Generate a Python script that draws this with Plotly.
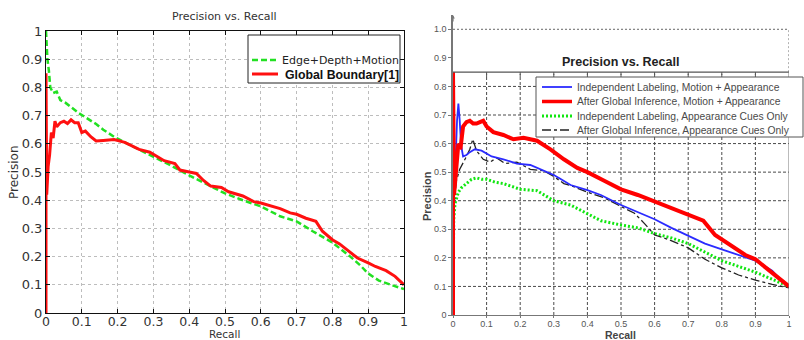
import plotly.graph_objects as go

# ---------------- data ----------------
tick_vals = [0, 0.1, 0.2, 0.3, 0.4, 0.5, 0.6, 0.7, 0.8, 0.9, 1.0]
left_tick_text = ["0", "0.1", "0.2", "0.3", "0.4", "0.5", "0.6", "0.7", "0.8", "0.9", "1"]
right_x_tick_text = ["0", "0.1", "0.2", "0.3", "0.4", "0.5", "0.6", "0.7", "0.8", "0.9", "1"]
right_y_tick_text = ["0", "0.1", "0.2", "0.3", "0.4", "0.5", "0.6", "0.7", "0.8", "0.9", "1.0"]
right_grid_y = [0.1, 0.2, 0.3, 0.4, 0.5, 0.6, 0.7, 0.8]
right_grid_x = [0.1, 0.2, 0.3, 0.4, 0.5, 0.6, 0.7, 0.8, 0.9]

title_text = "Precision vs. Recall"
x_title = "Recall"
y_title = "Precision"

left_names = ["Edge+Depth+Motion", "Global Boundary[1]"]
right_names = [
    "Independent Labeling, Motion + Appearance",
    "After Global Inference, Motion + Appearance",
    "Independent Labeling, Appearance Cues Only",
    "After Global Inference, Appearance Cues Only",
]

# Left: Edge+Depth+Motion
edm_recall = [0, 0.004, 0.008, 0.012, 0.02, 0.03, 0.04, 0.055, 0.07, 0.09, 0.115, 0.14,
              0.16, 0.19, 0.22, 0.26, 0.3, 0.346, 0.4, 0.45, 0.5, 0.55, 0.6, 0.654, 0.7,
              0.745, 0.784, 0.8, 0.85, 0.877, 0.9, 0.93, 0.97, 1.0]
edm_precision = [1.0, 0.9, 0.86, 0.8, 0.78, 0.785, 0.755, 0.745, 0.73, 0.71, 0.69, 0.67,
                 0.65, 0.625, 0.605, 0.58, 0.555, 0.525, 0.488, 0.455, 0.424, 0.4, 0.378,
                 0.343, 0.325, 0.29, 0.262, 0.25, 0.2, 0.17, 0.14, 0.115, 0.097, 0.085]

# Left: Global Boundary[1]
gb_recall = [0, 0, 0.002, 0.006, 0.01, 0.015, 0.02, 0.025, 0.03, 0.04, 0.05, 0.06, 0.07,
             0.08, 0.09, 0.1, 0.11, 0.125, 0.14, 0.16, 0.19, 0.22, 0.26, 0.29, 0.33, 0.36,
             0.374, 0.4, 0.42, 0.44, 0.46, 0.49, 0.51, 0.55, 0.58, 0.6, 0.626, 0.654,
             0.682, 0.7, 0.726, 0.754, 0.772, 0.79, 0.8, 0.82, 0.85, 0.87, 0.9, 0.92,
             0.95, 0.975, 1.0]
gb_precision = [0, 0.85, 0.42, 0.52, 0.56, 0.64, 0.62, 0.68, 0.66, 0.675, 0.68, 0.672,
                0.685, 0.675, 0.675, 0.64, 0.645, 0.625, 0.61, 0.612, 0.615, 0.605, 0.58,
                0.57, 0.54, 0.53, 0.507, 0.5, 0.495, 0.47, 0.45, 0.445, 0.43, 0.415,
                0.395, 0.39, 0.38, 0.37, 0.355, 0.35, 0.336, 0.325, 0.29, 0.27, 0.26,
                0.245, 0.215, 0.195, 0.178, 0.165, 0.15, 0.13, 0.1]

# Right: Independent Labeling, Motion + Appearance (blue)
ilma_recall = [0.003, 0.008, 0.012, 0.016, 0.02, 0.024, 0.03, 0.04, 0.05, 0.065, 0.085,
               0.1, 0.115, 0.15, 0.19, 0.23, 0.27, 0.3, 0.318, 0.35, 0.4, 0.44, 0.5,
               0.55, 0.6, 0.65, 0.7, 0.75, 0.8, 0.85, 0.9, 0.95, 0.97, 1.0]
ilma_precision = [0.45, 0.55, 0.68, 0.74, 0.68, 0.595, 0.555, 0.56, 0.57, 0.58, 0.575,
                  0.565, 0.555, 0.545, 0.53, 0.525, 0.505, 0.49, 0.478, 0.455, 0.437,
                  0.42, 0.385, 0.36, 0.335, 0.305, 0.278, 0.25, 0.23, 0.21, 0.19, 0.155,
                  0.13, 0.1]

# Right: After Global Inference, Motion + Appearance (red)
agma_recall = [0, 0, 0.003, 0.008, 0.012, 0.016, 0.022, 0.026, 0.03, 0.04, 0.05, 0.06,
               0.07, 0.08, 0.09, 0.1, 0.12, 0.15, 0.18, 0.21, 0.25, 0.29, 0.33, 0.37,
               0.4, 0.45, 0.5, 0.55, 0.6, 0.655, 0.7, 0.745, 0.78, 0.83, 0.87, 0.9,
               0.95, 1.0]
agma_precision = [0, 0.85, 0.42, 0.5, 0.55, 0.6, 0.58, 0.64, 0.66, 0.675, 0.68, 0.67,
                  0.67, 0.675, 0.68, 0.66, 0.64, 0.63, 0.615, 0.62, 0.61, 0.58, 0.545,
                  0.515, 0.5, 0.47, 0.44, 0.42, 0.396, 0.37, 0.35, 0.33, 0.28, 0.24,
                  0.21, 0.195, 0.146, 0.1]

# Right: Independent Labeling, Appearance Cues Only (green)
ilac_recall = [0, 0.002, 0.006, 0.01, 0.016, 0.025, 0.04, 0.055, 0.07, 0.085, 0.1,
               0.125, 0.15, 0.2, 0.25, 0.3, 0.35, 0.4, 0.44, 0.5, 0.55, 0.6, 0.65,
               0.7, 0.75, 0.8, 0.85, 0.9, 0.95, 1.0]
ilac_precision = [0, 0.33, 0.39, 0.41, 0.43, 0.445, 0.46, 0.475, 0.48, 0.475, 0.475,
                  0.465, 0.46, 0.44, 0.435, 0.40, 0.385, 0.355, 0.33, 0.315, 0.305,
                  0.285, 0.27, 0.25, 0.22, 0.19, 0.17, 0.15, 0.125, 0.1]

# Right: After Global Inference, Appearance Cues Only (black)
agac_recall = [0.003, 0.01, 0.02, 0.03, 0.04, 0.05, 0.059, 0.07, 0.08, 0.09, 0.11,
               0.13, 0.155, 0.19, 0.23, 0.27, 0.3, 0.33, 0.357, 0.4, 0.45, 0.5, 0.54,
               0.57, 0.6, 0.64, 0.7, 0.75, 0.8, 0.85, 0.9, 0.95, 1.0]
agac_precision = [0.38, 0.47, 0.51, 0.53, 0.555, 0.58, 0.615, 0.575, 0.56, 0.545,
                  0.535, 0.55, 0.53, 0.535, 0.51, 0.505, 0.485, 0.46, 0.45, 0.43,
                  0.41, 0.38, 0.356, 0.32, 0.28, 0.265, 0.235, 0.195, 0.165, 0.14,
                  0.122, 0.107, 0.095]

# ---------------- styles ----------------
W, H = 804, 340
def PX(x):
    return x / W
def PY(y):
    return 1 - y / H

L_FONT = "DejaVu Sans"
R_FONT = "Liberation Sans, Arial"

left_styles = [
    dict(color="#22e022", width=2.5, dash="6px,3px"),
    dict(color="#ff1010", width=3, dash="solid"),
]
right_styles = [
    dict(color="#2b2bff", width=1.8, dash="solid"),
    dict(color="#ff0000", width=4, dash="solid"),
    dict(color="#11e611", width=3, dash="2px,2px"),
    dict(color="#222222", width=1.3, dash="dashdot"),
]

fig = go.Figure()

fig.add_trace(go.Scatter(x=edm_recall, y=edm_precision, mode="lines", name=left_names[0],
                         line=left_styles[0], xaxis="x", yaxis="y", showlegend=False))
fig.add_trace(go.Scatter(x=gb_recall, y=gb_precision, mode="lines", name=left_names[1],
                         line=left_styles[1], xaxis="x", yaxis="y", showlegend=False))

right_series = [
    (ilma_recall, ilma_precision),
    (agma_recall, agma_precision),
    (ilac_recall, ilac_precision),
    (agac_recall, agac_precision),
]
for i in [2, 3, 0, 1]:
    rx, ry = right_series[i]
    fig.add_trace(go.Scatter(x=rx, y=ry, mode="lines", name=right_names[i],
                             line=right_styles[i], xaxis="x2", yaxis="y2",
                             showlegend=False))

shapes = []
annotations = []

# ---- right plot frame & grid ----
R_TOP = 0.85
gcol = "#4a4a4a"
for gx in right_grid_x:
    shapes.append(dict(type="line", xref="x2", yref="y2", x0=gx, x1=gx, y0=0, y1=R_TOP,
                       line=dict(color=gcol, width=1, dash="3px,2px"), layer="below"))
for gy in right_grid_y:
    shapes.append(dict(type="line", xref="x2", yref="y2", x0=0, x1=1, y0=gy, y1=gy,
                       line=dict(color=gcol, width=1, dash="3px,2px"), layer="below"))
shapes.append(dict(type="line", xref="x2", yref="y2", x0=0, x1=1, y0=tick_vals[-1], y1=tick_vals[-1],
                   line=dict(color="#666", width=1, dash="2px,2px"), layer="below"))
shapes.append(dict(type="line", xref="x2", yref="y2", x0=1, x1=1, y0=R_TOP, y1=tick_vals[-1],
                   line=dict(color="#666", width=1, dash="2px,2px"), layer="below"))
shapes.append(dict(type="line", xref="x2", yref="y2", x0=0, x1=1, y0=R_TOP, y1=R_TOP,
                   line=dict(color="#555", width=1.2), layer="above"))
shapes.append(dict(type="line", xref="x2", yref="y2", x0=1, x1=1, y0=0, y1=R_TOP,
                   line=dict(color="#777", width=1), layer="above"))
for gx in right_grid_x:
    shapes.append(dict(type="line", xref="x2", yref="paper", x0=gx, x1=gx,
                       y0=PY(74), y1=PY(77), line=dict(color="#555", width=1)))

# ---- left legend ----
shapes.append(dict(type="rect", xref="paper", yref="paper", x0=PX(248), x1=PX(400),
                   y0=PY(83), y1=PY(35), line=dict(color="#222", width=1),
                   fillcolor="white", layer="above"))
left_leg_y = [60, 74]
for i, yy in enumerate(left_leg_y):
    st = left_styles[i]
    shapes.append(dict(type="line", xref="paper", yref="paper", x0=PX(252), x1=PX(278),
                       y0=PY(yy), y1=PY(yy),
                       line=dict(color=st["color"], width=st["width"], dash=st["dash"]),
                       layer="above"))
annotations.append(dict(text=left_names[0], xref="paper", yref="paper", x=PX(280), y=PY(60),
                        xanchor="left", yanchor="middle", showarrow=False,
                        font=dict(family=L_FONT, size=11, color="#222")))
annotations.append(dict(text="<b>" + left_names[1] + "</b>", xref="paper", yref="paper",
                        x=PX(283), y=PY(74.5), xanchor="left", yanchor="middle", showarrow=False,
                        font=dict(family=R_FONT, size=12.3, color="#111")))

# ---- right legend ----
shapes.append(dict(type="rect", xref="paper", yref="paper", x0=PX(536), x1=PX(803),
                   y0=PY(137), y1=PY(77), line=dict(color="#555", width=1),
                   fillcolor="white", layer="above"))
right_leg_y = [87, 101.5, 116, 130]
for i, yy in enumerate(right_leg_y):
    st = right_styles[i]
    shapes.append(dict(type="line", xref="paper", yref="paper", x0=PX(542), x1=PX(572),
                       y0=PY(yy), y1=PY(yy),
                       line=dict(color=st["color"], width=min(st["width"], 3.5), dash=st["dash"]),
                       layer="above"))
    annotations.append(dict(text=right_names[i], xref="paper", yref="paper", x=PX(575),
                            y=PY(yy), xanchor="left", yanchor="middle", showarrow=False,
                            font=dict(family=R_FONT, size=10.3, color="#4a4a4a")))

# ---- titles ----
annotations.append(dict(text=title_text, xref="paper", yref="paper", x=PX(225), y=PY(16),
                        xanchor="center", yanchor="middle", showarrow=False,
                        font=dict(family=L_FONT, size=11, color="#333")))
annotations.append(dict(text="<b>" + title_text + "</b>", xref="paper", yref="paper",
                        x=PX(620), y=PY(62), xanchor="center", yanchor="middle",
                        showarrow=False, font=dict(family=R_FONT, size=12.5, color="#222")))
annotations.append(dict(text=x_title, xref="paper", yref="paper", x=PX(225), y=PY(334.2),
                        xanchor="center", yanchor="middle", showarrow=False,
                        font=dict(family=L_FONT, size=10.5, color="#333")))
annotations.append(dict(text=y_title, xref="paper", yref="paper", x=PX(14), y=PY(172),
                        xanchor="center", yanchor="middle", showarrow=False, textangle=-90,
                        font=dict(family=L_FONT, size=12, color="#333")))
annotations.append(dict(text="<b>" + x_title + "</b>", xref="paper", yref="paper",
                        x=PX(620), y=PY(335), xanchor="center", yanchor="middle",
                        showarrow=False, font=dict(family=R_FONT, size=10.5, color="#444")))
annotations.append(dict(text="<b>" + y_title + "</b>", xref="paper", yref="paper",
                        x=PX(427), y=PY(196), xanchor="center", yanchor="middle",
                        showarrow=False, textangle=-90,
                        font=dict(family=R_FONT, size=11, color="#444")))

# right y-axis arrow head
annotations.append(dict(x=PX(453), y=PY(15), ax=0, ay=8, xref="paper", yref="paper",
                        axref="pixel", ayref="pixel", text="", showarrow=True, arrowhead=2,
                        arrowsize=0.6, arrowwidth=1.2, arrowcolor="#777"))

common_left = dict(range=[0, 1], tickvals=tick_vals, ticktext=left_tick_text,
                   showline=True, mirror="ticks", linecolor="#111", linewidth=1,
                   ticks="inside", ticklen=4, tickcolor="#111",
                   showgrid=True, gridcolor="#bdbdbd", griddash="dot", gridwidth=1,
                   zeroline=False, automargin=False)
common_right = dict(tickvals=tick_vals, showline=True, linecolor="#777",
                    ticks="outside", tickcolor="#777", showgrid=False, zeroline=False,
                    automargin=False, tickfont=dict(family=R_FONT, size=9, color="#555"))

fig.update_layout(
    template="none",
    width=W, height=H,
    margin=dict(l=0, r=0, t=0, b=0, autoexpand=False),
    paper_bgcolor="white", plot_bgcolor="white",
    showlegend=False,
    xaxis=dict(domain=[PX(46), PX(404)], anchor="y", ticklabelstandoff=-3,
               tickfont=dict(family=L_FONT, size=12.5, color="#333"), **common_left),
    yaxis=dict(domain=[PY(313), PY(31)], anchor="x",
               tickfont=dict(family=L_FONT, size=13, color="#333"), **common_left),
    xaxis2=dict(domain=[PX(453), PX(789)], range=[0, 1], ticktext=right_x_tick_text,
                linewidth=1, ticklen=2, anchor="y2", ticklabelstandoff=-2, **common_right),
    yaxis2=dict(domain=[PY(315), PY(15)], range=[0, 1.05], ticktext=right_y_tick_text,
                linewidth=1.5, ticklen=3, anchor="x2", **common_right),
    shapes=shapes,
    annotations=annotations,
)

fig.write_html("out.html", config={"displayModeBar": False},
               post_script="document.body.style.margin='0px';document.body.style.overflow='hidden';")
